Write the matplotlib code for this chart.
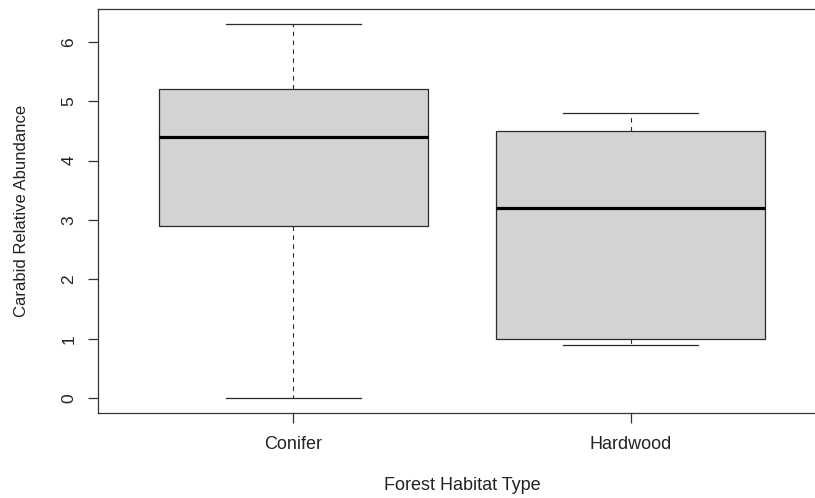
import matplotlib
matplotlib.use("Agg")
import matplotlib.pyplot as plt

categories = ["Conifer", "Hardwood"]
whisker_low = [0.0, 0.9]
q1 = [2.9, 1.0]
median = [4.4, 3.2]
q3 = [5.2, 4.5]
whisker_high = [6.3, 4.8]
y_ticks = [0, 1, 2, 3, 4, 5, 6]

plt.rcParams['font.family'] = ['Liberation Sans', 'DejaVu Sans']

W, H = 815, 498
fig = plt.figure(figsize=(W / 100, H / 100), dpi=100)
ax = fig.add_axes([98 / W, (H - 413) / H, (826 - 98) / W, (413 - 9) / H])

stats = []
for i, c in enumerate(categories):
    stats.append(dict(label=c, whislo=whisker_low[i], q1=q1[i], med=median[i],
                      q3=q3[i], whishi=whisker_high[i], fliers=[]))

lc = '#2a2a2a'
ax.bxp(stats, positions=[1, 2], widths=0.8, patch_artist=True,
       showfliers=False,
       boxprops=dict(facecolor='#D3D3D3', edgecolor=lc, linewidth=0.9),
       medianprops=dict(color='black', linewidth=2.3, solid_capstyle='butt'),
       whiskerprops=dict(color=lc, linewidth=0.8, linestyle=(0, (4, 4))),
       capprops=dict(color=lc, linewidth=0.9),
       capwidths=0.4)

ax.set_xlim(0.42, 2.58)
ax.set_ylim(-0.252, 6.552)
ax.set_yticks(y_ticks)
ax.set_yticklabels([str(v) for v in y_ticks], rotation=90, va='center')
ax.set_xticks([1, 2])
ax.set_xticklabels(categories)

for s in ax.spines.values():
    s.set_color('#333333')
    s.set_linewidth(0.9)

ax.tick_params(axis='both', direction='out', length=7.5, width=0.9,
               color='#333333', labelsize=13, labelcolor='#222222')
ax.tick_params(axis='x', pad=9)
ax.tick_params(axis='y', pad=8, labelsize=12.5)

ax.set_xlabel("Forest Habitat Type", fontsize=13, color='#222222')
ax.xaxis.label.set_va('center')
ax.xaxis.set_label_coords(0.5, -(485 - 413) / 404)
ax.set_ylabel("Carabid Relative Abundance", fontsize=12, color='#222222')
ax.yaxis.label.set_va('center')
ax.yaxis.set_label_coords(-(98 - 21) / 728, 0.5)

fig.savefig("out.png", dpi=100)
